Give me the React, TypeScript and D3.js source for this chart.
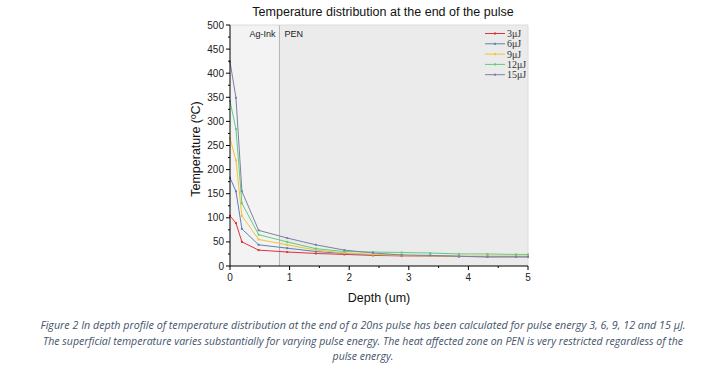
import React from "react";
import * as d3 from "d3";

const depths = [0, 0.1, 0.2, 0.48, 0.96, 1.44, 1.92, 2.4, 2.88, 3.36, 3.84, 4.32, 4.8, 5.0];
const seriesNames = ["3μJ", "6μJ", "9μJ", "12μJ", "15μJ"];
const seriesColors = ["#e3313b", "#5b80b8", "#f3c13a", "#5ccf7c", "#7f7fa6"];
const t3 = [104, 89, 50, 33, 29, 26, 24, 22, 21, 21, 20, 20, 20, 20];
const t6 = [183, 155, 77, 44, 37, 30, 26, 23, 22, 21, 20, 19, 19, 19];
const t9 = [265, 219, 104, 55, 44, 33, 27, 24, 22, 21, 20, 20, 20, 20];
const t12 = [342, 284, 130, 65, 50, 36, 30, 29, 28, 27, 25, 25, 24, 24];
const t15 = [424, 349, 155, 74, 58, 44, 33, 27, 23, 22, 20, 19, 19, 19];
const seriesValues = [t3, t6, t9, t12, t15];
const xTicks = [0, 1, 2, 3, 4, 5];
const yTicks = [0, 50, 100, 150, 200, 250, 300, 350, 400, 450, 500];
const interfaceDepth = 0.83;
const captionLines = [
  "Figure 2 In depth profile of temperature distribution at the end of a 20ns pulse has been calculated for pulse energy 3, 6, 9, 12 and 15 μJ.",
  "The superficial temperature varies substantially for varying pulse energy. The heat affected zone on PEN is very restricted regardless of the",
  "pulse energy.",
];

export default function App() {
  const W = 725, H = 369;
  const left = 230, right = 528, top = 25, bottom = 266;
  const x = d3.scaleLinear().domain([0, 5]).range([left, right]);
  const y = d3.scaleLinear().domain([0, 500]).range([bottom, top]);
  const line = d3.line<number>().x((_, i) => x(depths[i])).y((v) => y(v));
  const xMinor = d3.range(0, 5.01, 0.5).filter((v) => !xTicks.includes(v));
  const yMinor = d3.range(25, 500, 50);
  const axisFont = "Liberation Sans, Arial, sans-serif";
  return (
    <svg width={W} height={H} style={{ position: "absolute", left: 0, top: 0, background: "#fff" }}>
      <rect x={0} y={0} width={W} height={H} fill="#fff" />
      <text x={383} y={16} textAnchor="middle" fontFamily={axisFont} fontSize={12.5} fill="#111">
        Temperature distribution at the end of the pulse
      </text>
      <rect x={left} y={top} width={x(interfaceDepth) - left} height={bottom - top} fill="#f3f3f3" />
      <rect x={x(interfaceDepth)} y={top} width={right - x(interfaceDepth)} height={bottom - top} fill="#ebebeb" />
      <line x1={x(interfaceDepth)} x2={x(interfaceDepth)} y1={top} y2={bottom} stroke="#b4b4b4" strokeWidth={1} />
      <line x1={left} x2={right} y1={top} y2={top} stroke="#dcdcdc" />
      <line x1={right} x2={right} y1={top} y2={bottom} stroke="#dcdcdc" />
      <text x={x(interfaceDepth) - 4} y={37} textAnchor="end" fontFamily={axisFont} fontSize={9} fill="#222">Ag-Ink</text>
      <text x={x(interfaceDepth) + 5} y={37} fontFamily={axisFont} fontSize={9} fill="#222">PEN</text>
      {seriesValues.map((vals, s) => (
        <g key={s}>
          <path d={line(vals) || ""} fill="none" stroke={seriesColors[s]} strokeWidth={1} />
          {vals.map((v, i) => (
            <rect key={i} x={x(depths[i]) - 1} y={y(v) - 1} width={2} height={2} fill={seriesColors[s]} />
          ))}
        </g>
      ))}
      {seriesNames.map((n, i) => {
        const ly = 33.5 + i * 10.3;
        return (
          <g key={n}>
            <line x1={485} x2={505} y1={ly} y2={ly} stroke={seriesColors[i]} strokeWidth={1} />
            <rect x={494} y={ly - 1} width={2} height={2} fill={seriesColors[i]} />
            <text x={507} y={ly + 3.5} fontFamily="Liberation Serif, Times New Roman, serif" fontSize={10} fill="#333">{n}</text>
          </g>
        );
      })}
      <line x1={left} x2={left} y1={top} y2={bottom} stroke="#000" />
      <line x1={left} x2={right} y1={bottom} y2={bottom} stroke="#000" />
      {yTicks.map((t) => (
        <g key={t}>
          <line x1={left - 4} x2={left} y1={y(t)} y2={y(t)} stroke="#000" />
          <text x={left - 6} y={y(t) + 3.5} textAnchor="end" fontFamily={axisFont} fontSize={10} fill="#222">{t}</text>
        </g>
      ))}
      {yMinor.map((t) => (
        <line key={t} x1={left - 2} x2={left} y1={y(t)} y2={y(t)} stroke="#000" />
      ))}
      {xTicks.map((t) => (
        <g key={t}>
          <line x1={x(t)} x2={x(t)} y1={bottom} y2={bottom + 4} stroke="#000" />
          <text x={x(t)} y={bottom + 15} textAnchor="middle" fontFamily={axisFont} fontSize={10} fill="#222">{t}</text>
        </g>
      ))}
      {xMinor.map((t) => (
        <line key={t} x1={x(t)} x2={x(t)} y1={bottom} y2={bottom + 2} stroke="#000" />
      ))}
      <text x={379} y={302} textAnchor="middle" fontFamily={axisFont} fontSize={12.5} fill="#111">Depth (um)</text>
      <text transform={`translate(200,149) rotate(-90)`} textAnchor="middle" fontFamily={axisFont} fontSize={12.5} fill="#111">Temperature (ºC)</text>
      {captionLines.map((c, i) => (
        <text key={i} x={363} y={329 + i * 15.5} textAnchor="middle" fontFamily="Open Sans, sans-serif" fontStyle="italic" fontSize={10.5} fill="#44546a"
          {...(i < 2 ? { textLength: i === 0 ? 645 : 640, lengthAdjust: "spacingAndGlyphs" } : {})}>
          {c}
        </text>
      ))}
    </svg>
  );
}
